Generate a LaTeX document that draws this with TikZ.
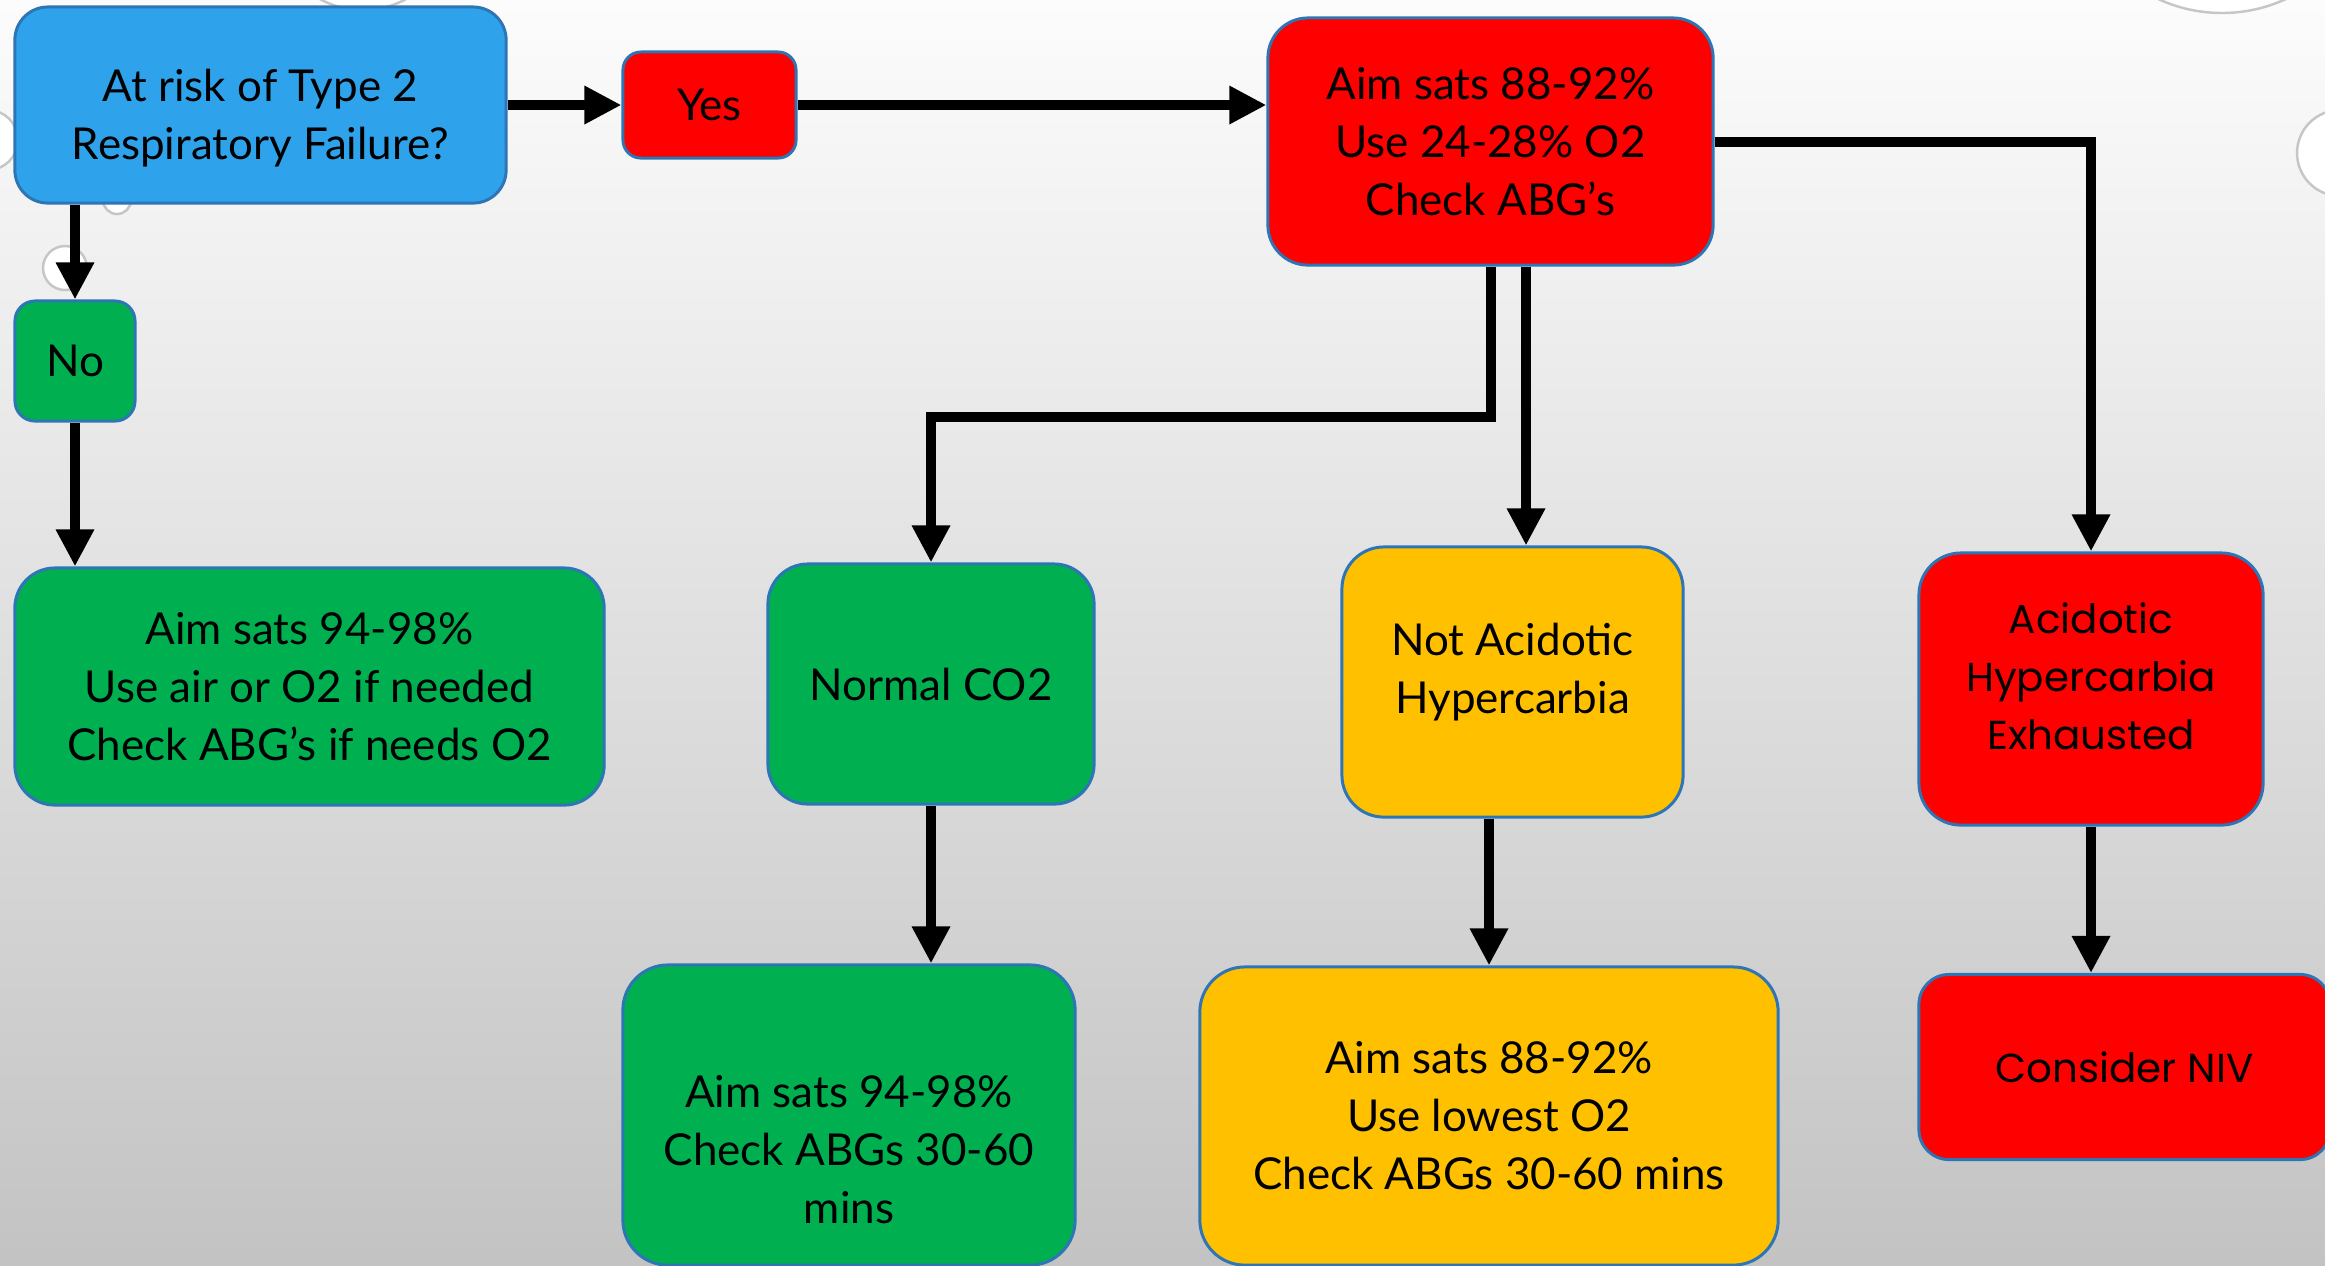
\documentclass[tikz,border=0pt]{standalone}
\usepackage{fontspec}
\setmainfont{Lato}
\newfontfamily\wideface{Poppins}
\usetikzlibrary{arrows.meta}
\definecolor{query}{HTML}{2EA3EC}
\definecolor{alarm}{HTML}{FF0000}
\definecolor{safe}{HTML}{00B050}
\definecolor{caution}{HTML}{FFC000}
\definecolor{rim}{HTML}{2E75B6}
\definecolor{bgtop}{HTML}{FCFCFC}
\definecolor{bgmid}{HTML}{EEEEEE}
\definecolor{bgbot}{HTML}{C3C3C3}
\newcommand{\boxfont}{\fontsize{12.5pt}{16.5pt}\selectfont}
\newcommand{\widefont}{\wideface\fontsize{11.5pt}{16.5pt}\selectfont}

\begin{document}
\begin{tikzpicture}[x=0.01cm,y=-0.01cm,
  card/.style={draw=rim,line width=0.85pt,rounded corners=0.33cm,align=center,
    font=\boxfont,inner sep=0pt},
  caption/.style={font=\boxfont,align=center},
  droplet/.style={fill=white,draw=gray!45,line width=0.7pt},
  flow/.style={line width=0.1cm,-{Triangle[length=0.37cm,width=0.36cm]}}]
  \path[use as bounding box] (0,0) rectangle (2325,1265);
  \clip (0,0) rectangle (2325,1265);
  \shade[top color=bgtop,middle color=bgmid,bottom color=bgbot] (0,0) rectangle (2325,1265);

  % Water drops of the slide theme.
  \foreach \cx/\cy/\rr in {65/268/22,117/200/14,-12/140/30,363/-80/90,2222/-139/152,2340/153/43}{
    \draw[droplet] (\cx,\cy) circle[radius=\rr];
  }

  % Question and first split.
  \node[card,fill=query,minimum width=4.91cm,minimum height=1.96cm,
    label={[caption,yshift=-0.13cm]center:At risk of Type 2\\Respiratory Failure?}] (risk) at (260.5,105) {};
  \node[card,fill=alarm,minimum width=1.73cm,minimum height=1.06cm,rounded corners=0.18cm] (yes) at (709.5,105) {Yes};
  \node[card,fill=safe,minimum width=1.2cm,minimum height=1.2cm,rounded corners=0.2cm] (no) at (75,361) {No};
  \node[card,fill=alarm,minimum width=4.45cm,minimum height=2.47cm,rounded corners=0.4cm] (aim) at (1490.5,141.5)
    {Aim sats 88-92\%\\Use 24-28\% O2\\Check ABG’s};
  \node[card,fill=safe,minimum width=5.89cm,minimum height=2.37cm,rounded corners=0.4cm] (air) at (309.5,686.5)
    {Aim sats 94-98\%\\Use air or O2 if needed\\Check ABG’s if needs O2};

  % ABG results.
  \node[card,fill=safe,minimum width=3.26cm,minimum height=2.4cm,rounded corners=0.4cm] (normal) at (931,684) {Normal CO2};
  \node[card,fill=caution,minimum width=3.41cm,minimum height=2.7cm,rounded corners=0.42cm,
    label={[caption,yshift=0.1cm]center:Not Acidotic\\Hypercarbia}] (mild) at (1512.5,682) {};
  \node[card,fill=alarm,minimum width=3.44cm,minimum height=2.72cm,rounded corners=0.42cm,
    label={[caption,font=\widefont,yshift=0.13cm]center:Acidotic\\Hypercarbia\\Exhausted}] (acid) at (2091,689) {};

  % Plans.
  \node[card,fill=safe,minimum width=4.52cm,minimum height=3cm,rounded corners=0.45cm,
    label={[caption,yshift=-0.35cm]center:Aim sats 94-98\%\\Check ABGs 30-60\\mins}] (normalplan) at (849,1115) {};
  \node[card,fill=caution,minimum width=5.78cm,minimum height=2.98cm,rounded corners=0.45cm] (mildplan) at (1489,1116)
    {Aim sats 88-92\%\\Use lowest O2\\Check ABGs 30-60 mins};
  \node[card,fill=alarm,minimum width=4.11cm,minimum height=1.85cm,rounded corners=0.3cm,font=\widefont] (niv) at (2124.5,1067)
    {Consider NIV};

  \coordinate (split) at ([xshift=0.355cm]aim.south);

  \draw[flow] (risk.east) -- (yes.west);
  \draw[flow] (yes.east) -- (yes.east -| aim.west);
  \draw[flow] (risk.south -| no.north) -- (no.north);
  \draw[flow] (no.south) -- (no.south |- air.north);
  \draw[flow] (aim.south) -- ++(0,150) -| (normal.north);
  \draw[flow] (split) -- (split |- mild.north);
  \draw[flow] (aim.east) -| (acid.north);
  \draw[flow] (normal.south) -- (normal.south |- normalplan.north);
  \draw[flow] (mildplan.north |- mild.south) -- (mildplan.north);
  \draw[flow] (acid.south) -- (acid.south |- niv.north);
\end{tikzpicture}
\end{document}
